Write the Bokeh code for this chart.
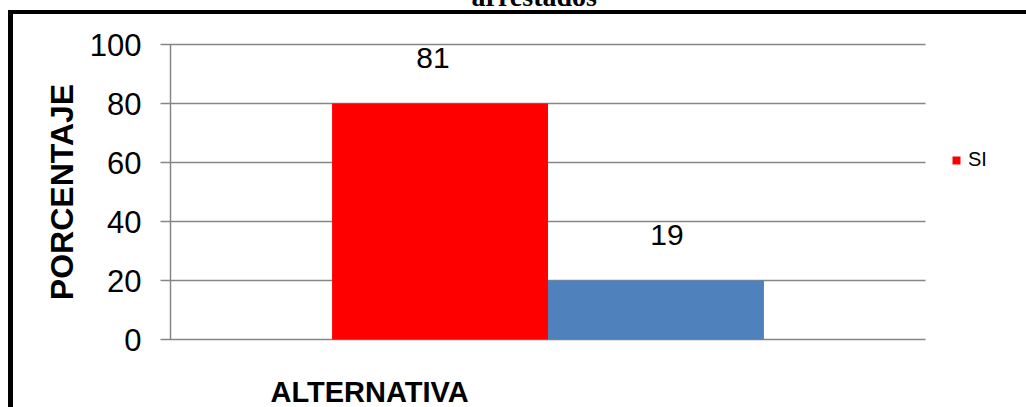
from bokeh.plotting import figure
from bokeh.models import (Range1d, FixedTicker, Legend, LegendItem, Title, ColumnDataSource)
from bokeh.transform import dodge
from bokeh.core.properties import value
from bokeh.embed import file_html
from bokeh.resources import INLINE

# ---- data ----
categories = ["ALTERNATIVA"]
series_names = ["SI", "NO"]
series_values = [80, 20]
series_labels = ["81", "19"]
series_colors = ["#FF0000", "#4F81BD"]
y_ticks = [0, 20, 40, 60, 80, 100]
title_text = "arrestados"
x_title = "ALTERNATIVA"
y_title = "PORCENTAJE"

FONT = "Liberation Sans"
SHIFT = 70     # canvas moved up so the chart title is cut at the window top
EXTRA = 50     # canvas extends below the window
PLOT_W = 755   # width of the gridded plot area (px)
FRAME_W = 1026 - 170  # frame runs to the right edge so the legend fits inside it

p = figure(width=1026, height=407 + SHIFT + EXTRA,
           x_range=Range1d(0, len(categories) * FRAME_W / PLOT_W),
           y_range=Range1d(0, 100), output_backend="svg", toolbar_location=None,
           min_border_left=170, min_border_right=0, min_border_top=44 + SHIFT,
           min_border_bottom=68 + EXTRA)
p.styles = {
    "position": "absolute", "left": "0px", "top": f"-{SHIFT}px",
    "background": (f"linear-gradient(black, black) 8px {10 + SHIFT}px / 5px 100% no-repeat, "
                   f"linear-gradient(black, black) 8px {10 + SHIFT}px / 100% 4px no-repeat, white"),
}
p.outline_line_color = None
p.background_fill_color = "white"
p.border_fill_alpha = 0

offsets = [-0.143, 0.143]
label_shift = [-7, 11]
bar_w = 0.286
renderers = []
for name, val, lab, col, off, ls in zip(series_names, series_values, series_labels,
                                        series_colors, offsets, label_shift):
    src = ColumnDataSource(dict(c=[i + 0.5 for i in range(len(categories))], v=[val], lab=[lab]))
    r = p.vbar(x=dodge("c", off), top="v", width=bar_w, source=src,
               fill_color=col, line_color=None, level="overlay")
    renderers.append(r)
    p.text(x=dodge("c", off), y="v", text="lab", source=src,
           text_align="center", text_baseline="alphabetic", y_offset=-46, x_offset=ls,
           text_font=value(FONT), text_font_size="30px", text_color="black", level="overlay")

# y axis; its inward ticks form the horizontal gridlines (bars are drawn over them)
p.yaxis.ticker = FixedTicker(ticks=y_ticks)
p.yaxis.axis_line_color = "#868686"
p.yaxis.axis_line_width = 1.5
p.yaxis.major_tick_line_color = "#868686"
p.yaxis.major_tick_line_width = 1.5
p.yaxis.major_tick_out = 10
p.yaxis.major_tick_in = PLOT_W
p.yaxis.minor_tick_line_color = None
p.yaxis.major_label_text_font = FONT
p.yaxis.major_label_text_font_size = "31px"
p.yaxis.major_label_text_color = "black"
p.yaxis.major_label_standoff = 19
p.yaxis.axis_label = y_title
p.yaxis.axis_label_text_font = FONT
p.yaxis.axis_label_text_font_style = "bold"
p.yaxis.axis_label_text_font_size = "32px"
p.yaxis.axis_label_text_color = "black"
p.yaxis.axis_label_standoff = 7

p.xaxis.visible = False
p.xgrid.grid_line_color = None
p.ygrid.grid_line_color = None

# x axis title (left of centre, as in the reference)
p.add_layout(Title(text=x_title, align="left", offset=100, standoff=68,
                   text_font=FONT, text_font_style="bold", text_font_size="29px",
                   text_color="black"), "below")
# chart title, cut off at the top of the window
p.add_layout(Title(text=title_text, align="left", offset=301, standoff=66,
                   text_font="Liberation Serif", text_font_style="bold", text_font_size="28px",
                   text_color="black"), "above")

legend = Legend(items=[LegendItem(label=series_names[0], renderers=[renderers[0]])],
                location=(781, 168), padding=0, margin=0, border_line_color=None,
                background_fill_alpha=0, glyph_width=10, glyph_height=10, label_height=22,
                label_standoff=7, label_text_font=FONT, label_text_font_size="20px",
                label_text_color="black")
p.add_layout(legend, "center")

open("out.html", "w").write(file_html(p, INLINE))
